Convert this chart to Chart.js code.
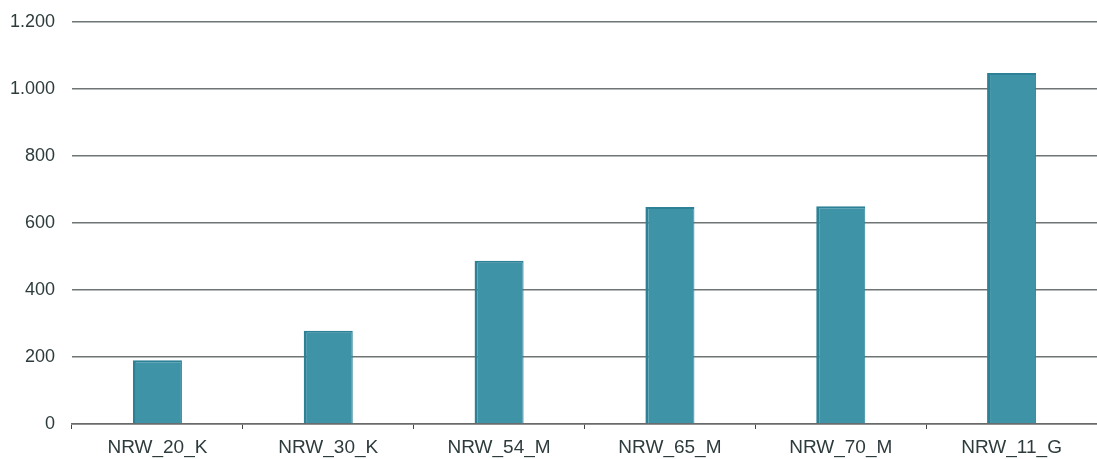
<!DOCTYPE html>
<html>
<head>
<meta charset="utf-8">
<script src="https://cdn.jsdelivr.net/npm/chart.js@4/dist/chart.umd.min.js"></script>
<style>
  html, body { margin: 0; padding: 0; background: #fff; }
  #wrap { width: 1097px; height: 459px; position: relative; }
</style>
</head>
<body>
<div id="wrap"><canvas id="c"></canvas></div>
<script>
// Station categories and their values
const categories = ['NRW_20_K', 'NRW_30_K', 'NRW_54_M', 'NRW_65_M', 'NRW_70_M', 'NRW_11_G'];
const values = [190, 278, 487, 648, 650, 1048];
const yTicks = [0, 200, 400, 600, 800, 1000, 1200];

const fmt = new Intl.NumberFormat('de-DE');
const labelColor = '#2e3b3c';

new Chart(document.getElementById('c'), {
  type: 'bar',
  data: {
    labels: categories,
    datasets: [{
      data: values,
      backgroundColor: '#3f93a7',
      borderColor: '#2c8197',
      borderWidth: { left: 3, top: 2, right: 1, bottom: 0 },
      borderSkipped: false,
      categoryPercentage: 1,
      barPercentage: 0.287
    }]
  },
  options: {
    responsive: true,
    maintainAspectRatio: false,
    animation: false,
    layout: { padding: { left: 0, right: 0, top: 22, bottom: 0 } },
    plugins: { legend: { display: false }, tooltip: { enabled: false } },
    scales: {
      x: {
        grid: { drawOnChartArea: false, drawTicks: true, tickLength: 5, color: '#444' },
        border: { display: true, color: '#6a6a6a', width: 1.5 },
        ticks: {
          color: labelColor,
          font: { family: 'Liberation Sans', size: 19 },
          padding: 7
        },
        afterFit: (axis) => { axis.height = 35; },
        offset: true
      },
      y: {
        min: 0,
        max: 1200,
        afterBuildTicks: (axis) => { axis.ticks = yTicks.map(v => ({ value: v })); },
        grid: { drawTicks: false, color: '#6f7474', lineWidth: 1.5 },
        border: { display: false },
        ticks: {
          color: labelColor,
          font: { family: 'Liberation Sans', size: 18 },
          padding: 17,
          callback: (v) => fmt.format(v)
        },
        afterFit: (axis) => { axis.width = 72; axis.paddingTop = 0; axis.paddingBottom = 0; }
      }
    }
  }
});
</script>
</body>
</html>
